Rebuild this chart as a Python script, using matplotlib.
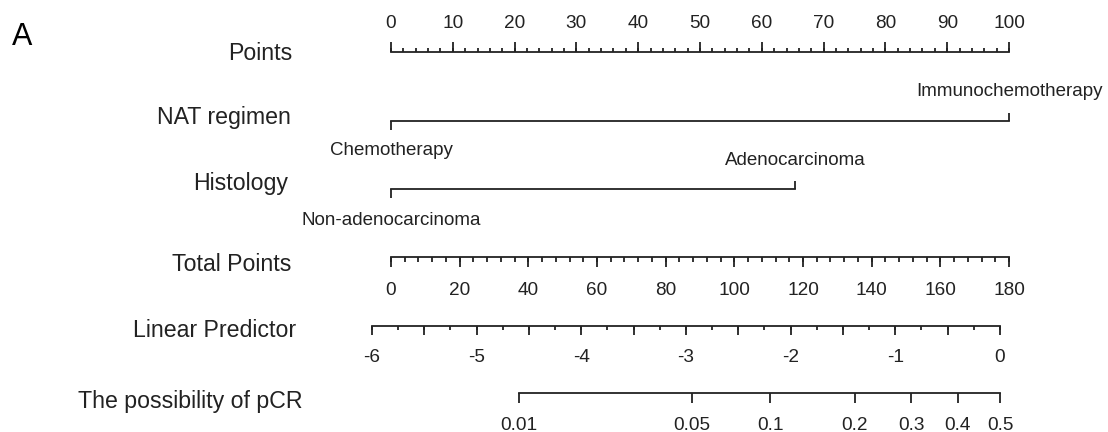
import numpy as np
import matplotlib.pyplot as plt

plt.rcParams['font.family'] = ['Liberation Sans', 'DejaVu Sans']

# ---- nomogram data ----
points_major = np.arange(0, 101, 10)
points_minor = np.arange(0, 101, 2)

nat_levels = ['Chemotherapy', 'Immunochemotherapy']
nat_points = [0, 100]

hist_levels = ['Non-adenocarcinoma', 'Adenocarcinoma']
hist_points = [0, 65.4]

total_max = 180
total_major = np.arange(0, 181, 20)
total_minor = np.arange(0, 181, 4)

lp_labels = [-6, -5, -4, -3, -2, -1, 0]
lp_major = np.arange(-6, 0.01, 0.5)
lp_minor = np.arange(-6, 0.01, 0.25)
lp_intercept = -5.818      # linear predictor at 0 total points
lp_per_point = 0.0328      # linear predictor per total point

prob_ticks = [0.01, 0.05, 0.1, 0.2, 0.3, 0.4, 0.5]
prob_labels = ['0.01', '0.05', '0.1', '0.2', '0.3', '0.4', '0.5']

row_names = ['Points', 'NAT regimen', 'Histology', 'Total Points',
             'Linear Predictor', 'The possibility of pCR']


def tp_to_x(tp):
    return np.asarray(tp, dtype=float) * 100.0 / total_max


def lp_to_x(lp):
    return tp_to_x((np.asarray(lp, dtype=float) - lp_intercept) / lp_per_point)


def prob_to_x(p):
    p = np.asarray(p, dtype=float)
    return lp_to_x(np.log(p / (1 - p)))


W, H = 1108, 432
fig = plt.figure(figsize=(W / 100, H / 100), dpi=100)
ax = fig.add_axes([0, 0, 1, 1])
x0_px, px_per_pt = 391, 6.18
ax.set_xlim(-x0_px / px_per_pt, (W - x0_px) / px_per_pt)
ax.set_ylim(H, 0)
ax.axis('off')

col = '#222222'
lw = 1.3
tick_fs = 13.7
lab_fs = 13.5
row_fs = 16.7

# Points axis (ticks up)
y = 52
ax.plot([points_major[0], points_major[-1]], [y, y], color=col, lw=lw)
ax.vlines(points_minor, y - 4, y, color=col, lw=lw)
ax.vlines(points_major, y - 10, y, color=col, lw=lw)
for v in points_major:
    ax.text(v, 28, str(v), ha='center', va='baseline', fontsize=tick_fs, color=col)

# categorical rows
for yl, pts, levels, base in [(121, nat_points, nat_levels, (155, 96)),
                              (189, hist_points, hist_levels, (225, 165))]:
    ax.plot(pts, [yl, yl], color=col, lw=lw)
    ax.vlines(pts[0], yl, yl + 9, color=col, lw=lw)
    ax.vlines(pts[1], yl - 8, yl, color=col, lw=lw)
    ax.text(pts[0], base[0], levels[0], ha='center', va='baseline', fontsize=lab_fs, color=col)
    ax.text(pts[1], base[1], levels[1], ha='center', va='baseline', fontsize=lab_fs, color=col)

# Total points axis (ticks down)
y = 257
ax.plot(tp_to_x([0, total_max]), [y, y], color=col, lw=lw)
ax.vlines(tp_to_x(total_minor), y, y + 5, color=col, lw=lw)
ax.vlines(tp_to_x(total_major), y, y + 10, color=col, lw=lw)
for v in total_major:
    ax.text(tp_to_x(v), 295, str(v), ha='center', va='baseline', fontsize=tick_fs, color=col)

# Linear predictor axis
y = 326
ax.plot(lp_to_x([lp_major[0], lp_major[-1]]), [y, y], color=col, lw=lw)
ax.vlines(lp_to_x(lp_minor), y, y + 4, color=col, lw=lw)
ax.vlines(lp_to_x(lp_major), y, y + 9, color=col, lw=lw)
for v in lp_labels:
    ax.text(lp_to_x(v), 362, str(v), ha='center', va='baseline', fontsize=tick_fs, color=col)

# Probability axis
y = 393
ax.plot(prob_to_x([prob_ticks[0], prob_ticks[-1]]), [y, y], color=col, lw=lw)
ax.vlines(prob_to_x(prob_ticks), y, y + 10, color=col, lw=lw)
for v, s in zip(prob_ticks, prob_labels):
    ax.text(prob_to_x(v), 430, s, ha='center', va='baseline', fontsize=tick_fs, color=col)

# row labels
row_left = [228, 157, 193, 172, 133, 78]
row_base = [60, 124, 190, 271, 337, 408]
for name, xl, yb in zip(row_names, row_left, row_base):
    fig.text(xl / W, 1 - yb / H, name, ha='left', va='baseline', fontsize=row_fs, color=col)

fig.text(12 / W, 1 - 45 / H, 'A', ha='left', va='baseline', fontsize=22, color='black')

fig.savefig('out.png', dpi=100, facecolor='white')
